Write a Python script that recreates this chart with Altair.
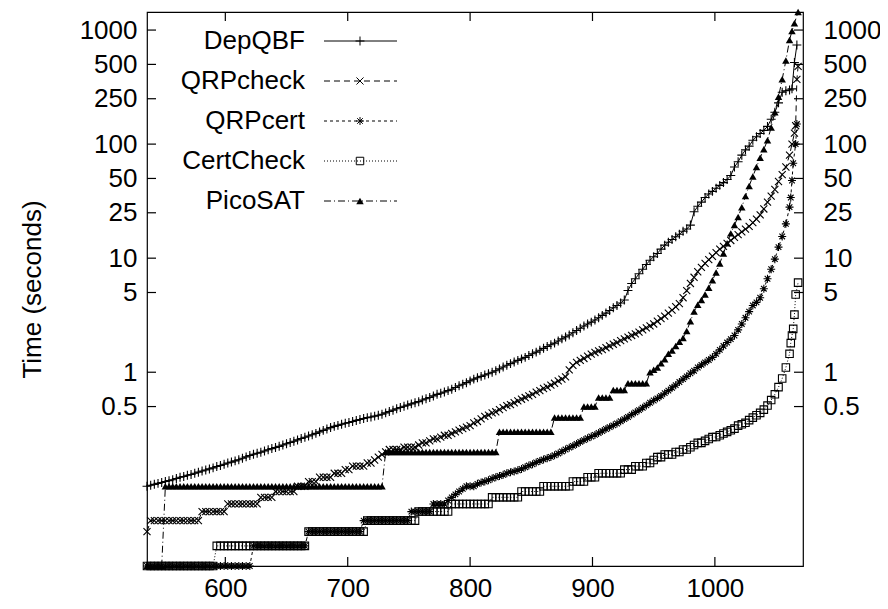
import altair as alt
import pandas as pd

NAMES = ["DepQBF", "QRPcheck", "QRPcert", "CertCheck", "PicoSAT"]

# number of solved instances (x) at which the curves were read
X_GRID = [
    536, 539, 542, 545, 548, 551, 554, 557, 560, 563,
    566, 569, 572, 575, 578, 581, 584, 587, 590, 593,
    596, 599, 602, 605, 608, 611, 614, 617, 620, 623,
    626, 629, 632, 635, 638, 641, 644, 647, 650, 653,
    656, 659, 662, 665, 668, 671, 674, 677, 680, 683,
    686, 689, 692, 695, 698, 701, 704, 707, 710, 713,
    716, 719, 722, 725, 728, 731, 734, 737, 740, 743,
    746, 749, 752, 755, 758, 761, 764, 767, 770, 773,
    776, 779, 782, 785, 788, 791, 794, 797, 800, 803,
    806, 809, 812, 815, 818, 821, 824, 827, 830, 833,
    836, 839, 842, 845, 848, 851, 854, 857, 860, 863,
    866, 869, 872, 875, 878, 881, 884, 887, 890, 893,
    896, 899, 902, 905, 908, 911, 914, 917, 920, 923,
    926, 929, 932, 935, 938, 941, 944, 947, 950, 953,
    956, 959, 962, 965, 968, 971, 974, 977, 980, 983,
    986, 989, 992, 995, 998, 1001, 1004, 1007, 1010, 1013,
    1016, 1019, 1022, 1025, 1028, 1031, 1034, 1037, 1040, 1043,
    1046, 1049, 1052, 1055, 1058, 1061,
]

DEPQBF = [
    0.100, 0.102, 0.104, 0.106, 0.108, 0.110, 0.112, 0.114, 0.117, 0.120,
    0.122, 0.125, 0.127, 0.130, 0.133, 0.136, 0.139, 0.142, 0.145, 0.149,
    0.152, 0.156, 0.160, 0.163, 0.167, 0.171, 0.176, 0.181, 0.186, 0.191,
    0.195, 0.199, 0.204, 0.209, 0.214, 0.219, 0.224, 0.230, 0.236, 0.242,
    0.248, 0.255, 0.262, 0.269, 0.276, 0.283, 0.291, 0.300, 0.309, 0.318,
    0.327, 0.335, 0.342, 0.350, 0.357, 0.362, 0.370, 0.378, 0.385, 0.393,
    0.400, 0.405, 0.412, 0.420, 0.428, 0.440, 0.452, 0.465, 0.478, 0.490,
    0.503, 0.515, 0.528, 0.540, 0.552, 0.570, 0.585, 0.600, 0.620, 0.640,
    0.655, 0.670, 0.690, 0.710, 0.735, 0.760, 0.785, 0.810, 0.840, 0.870,
    0.895, 0.920, 0.945, 0.970, 1.00, 1.03, 1.07, 1.11, 1.15, 1.19,
    1.23, 1.27, 1.31, 1.35, 1.40, 1.45, 1.50, 1.56, 1.62, 1.68,
    1.74, 1.80, 1.88, 1.96, 2.04, 2.12, 2.22, 2.32, 2.43, 2.54,
    2.65, 2.75, 2.87, 3.00, 3.15, 3.30, 3.48, 3.67, 3.85, 4.05,
    4.30, 5.20, 6.00, 6.60, 7.30, 8.00, 8.80, 9.60, 10.3, 11.0,
    12.0, 13.0, 13.8, 14.6, 15.4, 16.2, 17.2, 18.0, 19.5, 25.5,
    28.5, 31.0, 34.0, 36.5, 38.5, 41.0, 43.5, 46.0, 49.0, 53.0,
    63.0, 70.0, 80.0, 89.0, 96.0, 108, 116, 124, 132, 143,
    165, 190, 230, 285, 294, 298,
]
QRPCHECK = [
    0.04, 0.05, 0.05, 0.05, 0.05, 0.05, 0.05, 0.05, 0.05, 0.05,
    0.05, 0.05, 0.05, 0.05, 0.05, 0.06, 0.06, 0.06, 0.06, 0.06,
    0.06, 0.06, 0.07, 0.07, 0.07, 0.07, 0.07, 0.07, 0.07, 0.07,
    0.07, 0.08, 0.08, 0.08, 0.08, 0.09, 0.09, 0.09, 0.09, 0.09,
    0.09, 0.10, 0.10, 0.10, 0.11, 0.11, 0.11, 0.12, 0.12, 0.12,
    0.12, 0.13, 0.13, 0.13, 0.14, 0.14, 0.15, 0.15, 0.15, 0.15,
    0.16, 0.16, 0.17, 0.18, 0.19, 0.20, 0.21, 0.21, 0.21, 0.21,
    0.22, 0.22, 0.22, 0.22, 0.23, 0.24, 0.24, 0.25, 0.26, 0.26,
    0.27, 0.28, 0.28, 0.29, 0.30, 0.31, 0.32, 0.33, 0.34, 0.36,
    0.37, 0.39, 0.41, 0.42, 0.44, 0.45, 0.47, 0.49, 0.51, 0.52,
    0.54, 0.56, 0.58, 0.60, 0.62, 0.64, 0.67, 0.69, 0.72, 0.74,
    0.77, 0.80, 0.84, 0.87, 0.91, 1.05, 1.15, 1.22, 1.27, 1.32,
    1.38, 1.44, 1.49, 1.54, 1.58, 1.64, 1.70, 1.76, 1.82, 1.89,
    1.96, 2.03, 2.10, 2.17, 2.25, 2.35, 2.45, 2.55, 2.65, 2.80,
    2.95, 3.10, 3.30, 3.50, 3.75, 4.00, 4.50, 5.20, 6.00, 6.80,
    7.60, 8.30, 9.00, 9.70, 10.4, 11.2, 12.0, 12.7, 13.5, 14.3,
    15.2, 16.1, 17.0, 18.0, 19.0, 20.5, 22.0, 24.0, 27.0, 31.0,
    35.0, 40.0, 47.0, 54.0, 63.0, 80.0,
]
QRPCERT = [
    0.02, 0.02, 0.02, 0.02, 0.02, 0.02, 0.02, 0.02, 0.02, 0.02,
    0.02, 0.02, 0.02, 0.02, 0.02, 0.02, 0.02, 0.02, 0.02, 0.02,
    0.02, 0.02, 0.02, 0.02, 0.02, 0.02, 0.02, 0.02, 0.02, 0.03,
    0.03, 0.03, 0.03, 0.03, 0.03, 0.03, 0.03, 0.03, 0.03, 0.03,
    0.03, 0.03, 0.03, 0.03, 0.04, 0.04, 0.04, 0.04, 0.04, 0.04,
    0.04, 0.04, 0.04, 0.04, 0.04, 0.04, 0.04, 0.04, 0.04, 0.05,
    0.05, 0.05, 0.05, 0.05, 0.05, 0.05, 0.05, 0.05, 0.05, 0.05,
    0.05, 0.05, 0.06, 0.06, 0.06, 0.06, 0.06, 0.06, 0.07, 0.07,
    0.07, 0.07, 0.075, 0.08, 0.085, 0.09, 0.095, 0.10, 0.10, 0.10,
    0.105, 0.108, 0.110, 0.113, 0.117, 0.120, 0.123, 0.126, 0.130, 0.133,
    0.135, 0.138, 0.142, 0.147, 0.152, 0.156, 0.162, 0.167, 0.172, 0.176,
    0.181, 0.187, 0.194, 0.202, 0.210, 0.218, 0.226, 0.235, 0.245, 0.254,
    0.264, 0.273, 0.282, 0.293, 0.305, 0.318, 0.330, 0.342, 0.355, 0.372,
    0.388, 0.405, 0.425, 0.445, 0.465, 0.488, 0.512, 0.540, 0.565, 0.590,
    0.62, 0.655, 0.69, 0.73, 0.77, 0.82, 0.87, 0.92, 0.98, 1.03,
    1.10, 1.16, 1.22, 1.28, 1.35, 1.45, 1.57, 1.70, 1.82, 1.95,
    2.10, 2.35, 2.65, 3.00, 3.40, 3.85, 4.10, 4.50, 5.40, 6.60,
    8.00, 9.80, 12.5, 15.5, 20.0, 28.0,
]
CERTCHECK = [
    0.02, 0.02, 0.02, 0.02, 0.02, 0.02, 0.02, 0.02, 0.02, 0.02,
    0.02, 0.02, 0.02, 0.02, 0.02, 0.02, 0.02, 0.02, 0.02, 0.03,
    0.03, 0.03, 0.03, 0.03, 0.03, 0.03, 0.03, 0.03, 0.03, 0.03,
    0.03, 0.03, 0.03, 0.03, 0.03, 0.03, 0.03, 0.03, 0.03, 0.03,
    0.03, 0.03, 0.03, 0.03, 0.04, 0.04, 0.04, 0.04, 0.04, 0.04,
    0.04, 0.04, 0.04, 0.04, 0.04, 0.04, 0.04, 0.04, 0.04, 0.04,
    0.05, 0.05, 0.05, 0.05, 0.05, 0.05, 0.05, 0.05, 0.05, 0.05,
    0.05, 0.05, 0.05, 0.05, 0.06, 0.06, 0.06, 0.06, 0.06, 0.06,
    0.06, 0.06, 0.06, 0.07, 0.07, 0.07, 0.07, 0.07, 0.07, 0.07,
    0.07, 0.07, 0.07, 0.07, 0.08, 0.08, 0.08, 0.08, 0.08, 0.08,
    0.08, 0.08, 0.09, 0.09, 0.09, 0.09, 0.09, 0.09, 0.10, 0.10,
    0.10, 0.10, 0.10, 0.10, 0.10, 0.10, 0.11, 0.11, 0.11, 0.11,
    0.12, 0.12, 0.12, 0.13, 0.13, 0.13, 0.13, 0.13, 0.13, 0.13,
    0.14, 0.14, 0.14, 0.15, 0.15, 0.15, 0.16, 0.16, 0.17, 0.18,
    0.18, 0.19, 0.19, 0.19, 0.20, 0.20, 0.21, 0.21, 0.22, 0.23,
    0.24, 0.24, 0.25, 0.26, 0.27, 0.27, 0.28, 0.29, 0.30, 0.31,
    0.32, 0.34, 0.35, 0.36, 0.38, 0.40, 0.42, 0.44, 0.47, 0.51,
    0.57, 0.64, 0.74, 0.88, 1.10, 1.45,
]
PICOSAT = [
    0.02, 0.02, 0.02, 0.02, 0.02, 0.1, 0.1, 0.1, 0.1, 0.1,
    0.1, 0.1, 0.1, 0.1, 0.1, 0.1, 0.1, 0.1, 0.1, 0.1,
    0.1, 0.1, 0.1, 0.1, 0.1, 0.1, 0.1, 0.1, 0.1, 0.1,
    0.1, 0.1, 0.1, 0.1, 0.1, 0.1, 0.1, 0.1, 0.1, 0.1,
    0.1, 0.1, 0.1, 0.1, 0.1, 0.1, 0.1, 0.1, 0.1, 0.1,
    0.1, 0.1, 0.1, 0.1, 0.1, 0.1, 0.1, 0.1, 0.1, 0.1,
    0.1, 0.1, 0.1, 0.1, 0.1, 0.2, 0.2, 0.2, 0.2, 0.2,
    0.2, 0.2, 0.2, 0.2, 0.2, 0.2, 0.2, 0.2, 0.2, 0.2,
    0.2, 0.2, 0.2, 0.2, 0.2, 0.2, 0.2, 0.2, 0.2, 0.2,
    0.2, 0.2, 0.2, 0.2, 0.2, 0.2, 0.3, 0.3, 0.3, 0.3,
    0.3, 0.3, 0.3, 0.3, 0.3, 0.3, 0.3, 0.3, 0.3, 0.3,
    0.3, 0.4, 0.4, 0.4, 0.4, 0.4, 0.4, 0.4, 0.4, 0.5,
    0.5, 0.5, 0.5, 0.6, 0.6, 0.6, 0.6, 0.7, 0.7, 0.7,
    0.7, 0.8, 0.8, 0.8, 0.8, 0.8, 0.8, 1.0, 1.05, 1.1,
    1.2, 1.3, 1.45, 1.55, 1.7, 1.85, 2.0, 2.3, 2.8, 3.4,
    3.9, 4.3, 4.8, 5.5, 6.4, 7.5, 9.0, 11.0, 13.5, 16.5,
    19.5, 23.0, 28.0, 35.0, 43.0, 52.0, 63.0, 76.0, 90.0, 108,
    140, 190, 260, 370, 540, 820,
]

# last few instances of each solver, read separately
TAIL_X = {
    "DepQBF": [1063, 1065, 1067],
    "QRPcheck": [1063, 1065, 1066, 1067, 1068],
    "QRPcert": [1062, 1063, 1064, 1066, 1067],
    "CertCheck": [1062, 1063, 1064, 1065, 1066, 1068],
    "PicoSAT": [1063, 1065, 1068],
}
TAIL_Y = {
    "DepQBF": [305, 520, 740],
    "QRPcheck": [100, 125, 145, 370, 480],
    "QRPcert": [34, 48, 68, 100, 150],
    "CertCheck": [1.8, 2.1, 2.4, 3.2, 4.8, 6.1],
    "PicoSAT": [980, 1150, 1440],
}
SERIES = {"DepQBF": DEPQBF, "QRPcheck": QRPCHECK, "QRPcert": QRPCERT,
          "CertCheck": CERTCHECK, "PicoSAT": PICOSAT}

X_TICKS = [600, 700, 800, 900, 1000]
Y_TICKS = [0.5, 1, 5, 10, 25, 50, 100, 250, 500, 1000]
X_DOMAIN = [536, 1072]
Y_DOMAIN = [0.02, 1440]

W, H = 656, 554
FONT = "Liberation Sans"
FS = 26
TICK = 9

PLUS = "M-1,0L1,0M0,-1L0,1"
CROSS = "M-1,-1L1,1M-1,1L1,-1"
STAR = "M-1,0L1,0M0,-1L0,1M-0.7,-0.7L0.7,0.7M-0.7,0.7L0.7,-0.7"

STYLE = {
    "DepQBF": dict(dash=None, shape=PLUS, size=80, filled=False),
    "QRPcheck": dict(dash=[6, 4], shape=CROSS, size=50, filled=False),
    "QRPcert": dict(dash=[3, 3], shape=STAR, size=64, filled=False),
    "CertCheck": dict(dash=[1, 2], shape="square", size=56, filled=False),
    "PicoSAT": dict(dash=[7, 3, 1, 3], shape="triangle-up", size=56, filled=True),
}

xs = alt.Scale(domain=X_DOMAIN, nice=False, zero=False)
ys = alt.Scale(type="log", domain=Y_DOMAIN, nice=False)

layers = []
for name in NAMES:
    st = STYLE[name]
    df = pd.DataFrame({"x": X_GRID + TAIL_X[name], "y": SERIES[name] + TAIL_Y[name]})
    base = alt.Chart(df).encode(
        x=alt.X("x:Q", scale=xs, axis=None),
        y=alt.Y("y:Q", scale=ys, axis=None),
    )
    if st["dash"]:
        line = base.mark_line(color="black", strokeWidth=1, strokeDash=st["dash"])
    else:
        line = base.mark_line(color="black", strokeWidth=1)
    pts = base.mark_point(shape=st["shape"], size=st["size"], filled=st["filled"],
                          color="black", strokeWidth=1.1, opacity=1)
    layers += [line, pts]

ytick_df = pd.DataFrame({"v": Y_TICKS})
xtick_df = pd.DataFrame({"v": X_TICKS})

left_ticks = alt.Chart(ytick_df).mark_rule(color="black", strokeWidth=1.2).encode(
    y=alt.Y("v:Q", scale=ys, axis=alt.Axis(
        orient="left", values=Y_TICKS, format="~g", title="Time (seconds)",
        labelPadding=10, titleX=-115, titleY=H / 2, titleAngle=270,
        titleBaseline="middle", titleAlign="center")),
    x=alt.value(0), x2=alt.value(TICK),
)
right_ticks = alt.Chart(ytick_df).mark_rule(color="black", strokeWidth=1.2).encode(
    y=alt.Y("v:Q", scale=ys, axis=alt.Axis(
        orient="right", values=Y_TICKS, format="~g", title=None, labelPadding=20)),
    x=alt.value(W - TICK), x2=alt.value(W),
)
bottom_ticks = alt.Chart(xtick_df).mark_rule(color="black", strokeWidth=1.2).encode(
    x=alt.X("v:Q", scale=xs, axis=alt.Axis(
        orient="bottom", values=X_TICKS, format="d", title=None, labelPadding=9)),
    y=alt.value(H - TICK), y2=alt.value(H),
)
top_ticks = alt.Chart(xtick_df).mark_rule(color="black", strokeWidth=1.2).encode(
    x=alt.X("v:Q", scale=xs, axis=None),
    y=alt.value(0), y2=alt.value(TICK),
)

# gnuplot-style key, inside top-left
LEGEND_TOP = 29
LEGEND_STEP = 40
legend = []
for i, name in enumerate(NAMES):
    st = STYLE[name]
    ry = LEGEND_TOP + i * LEGEND_STEP
    ldf = pd.DataFrame({"label": [name]})
    legend.append(alt.Chart(ldf).mark_text(
        align="right", baseline="middle", font=FONT, fontSize=FS, color="black"
    ).encode(x=alt.value(158), y=alt.value(ry), text="label:N"))
    if st["dash"]:
        rl = alt.Chart(ldf).mark_rule(color="black", strokeWidth=1, strokeDash=st["dash"])
    else:
        rl = alt.Chart(ldf).mark_rule(color="black", strokeWidth=1)
    legend.append(rl.encode(x=alt.value(177), x2=alt.value(250), y=alt.value(ry)))
    legend.append(alt.Chart(ldf).mark_point(
        shape=st["shape"], size=st["size"], filled=st["filled"], color="black",
        strokeWidth=1, opacity=1
    ).encode(x=alt.value(213), y=alt.value(ry)))

chart = alt.layer(
    left_ticks, right_ticks, bottom_ticks, top_ticks, *layers, *legend
).resolve_axis(x="independent", y="independent").properties(
    width=W, height=H,
    padding={"left": 139, "top": 4, "right": 77, "bottom": 35},
    autosize=alt.AutoSizeParams(type="none"),
).configure_view(
    stroke="black", strokeWidth=1.2
).configure_axis(
    grid=False, domain=False, ticks=False, tickSize=0,
    labelFont=FONT, labelFontSize=FS, labelColor="black",
    titleFont=FONT, titleFontSize=FS, titleColor="black", titleFontWeight="normal",
    labelOverlap=False, labelFlush=False,
)

chart.save("out.html", embed_options={"renderer": "svg", "actions": False})
